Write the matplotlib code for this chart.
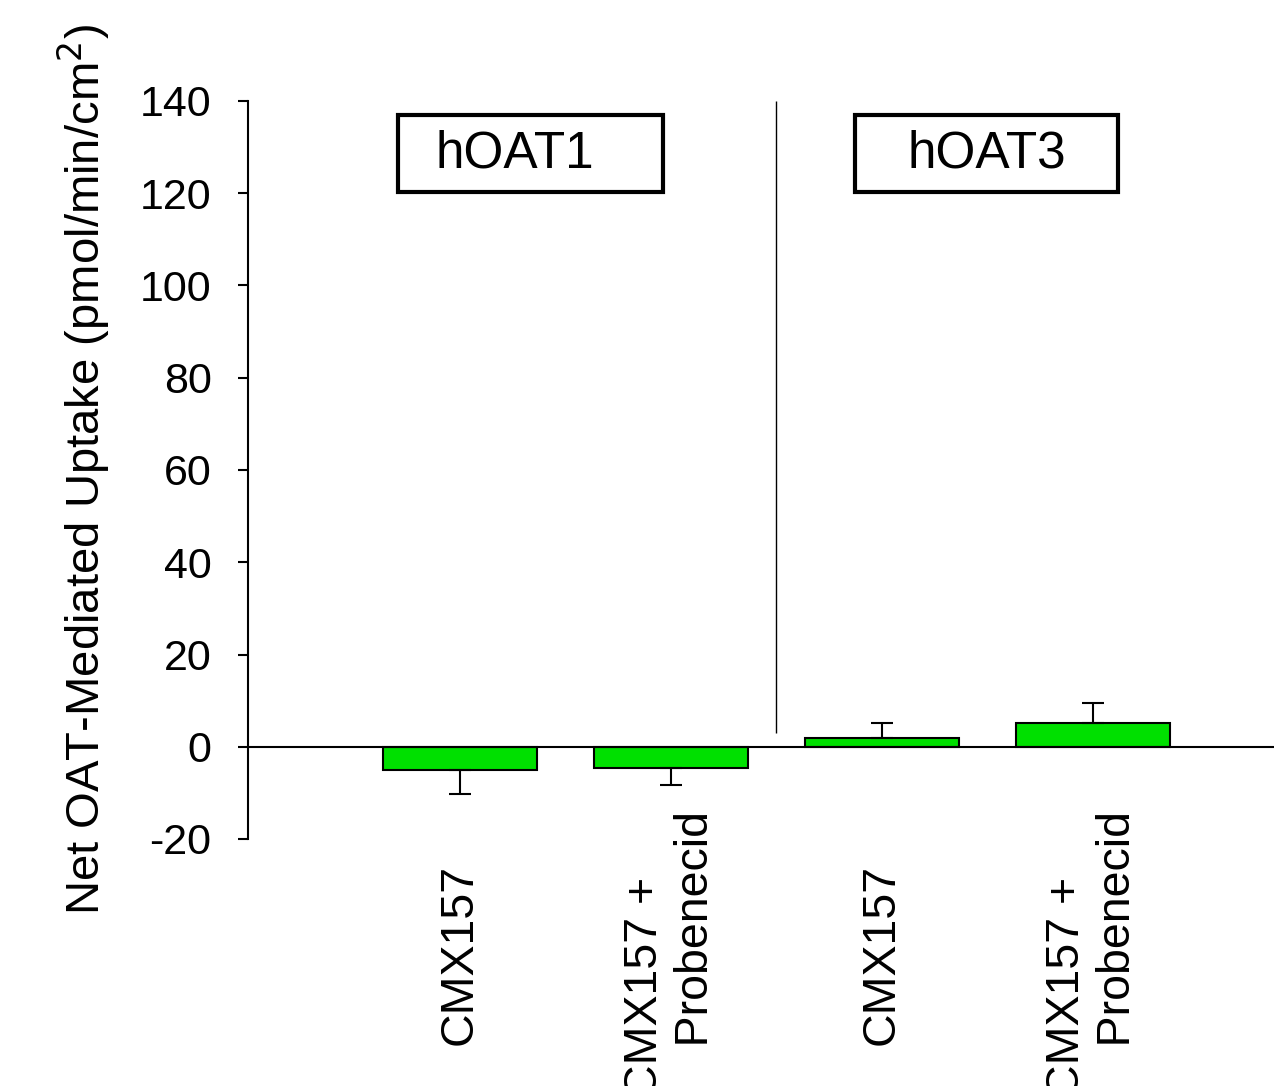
import matplotlib
matplotlib.use("Agg")
import matplotlib.pyplot as plt
from matplotlib.patches import Rectangle
import numpy as np

plt.rcParams['font.family'] = ['Liberation Sans', 'DejaVu Sans']

categories = ["CMX157", "CMX157 +\nProbenecid", "CMX157", "CMX157 +\nProbenecid"]
values = [-5.0, -4.6, 1.9, 5.1]
errors = [5.2, 3.7, 3.2, 4.3]
groups = ["hOAT1", "hOAT3"]
yticks = [-20, 0, 20, 40, 60, 80, 100, 120, 140]
ylabel = "Net OAT-Mediated Uptake (pmol/min/cm$^2$)"

fig = plt.figure(figsize=(12.74, 10.86), dpi=100)
ax = fig.add_axes([248/1274, 1-839/1086, 1-248/1274, (839-101)/1086])

x = np.arange(len(values))
vals = np.array(values)
errs = np.array(errors)
lower = np.where(vals < 0, errs, 0)
upper = np.where(vals >= 0, errs, 0)

ax.bar(x, vals, width=0.73, color='#00e000', edgecolor='black', linewidth=1.5, zorder=2)
ax.errorbar(x, vals, yerr=[lower, upper], fmt='none', ecolor='black',
            elinewidth=1.5, capsize=8, capthick=1.5, zorder=3)

ax.set_xlim(-1.005, 3.86)
ax.set_ylim(-20, 140)
ax.axhline(0, color='black', linewidth=1.5, zorder=4)
ax.vlines(1.5, 3.0, 140, color='black', linewidth=1.0)

for s in ['top', 'right', 'bottom']:
    ax.spines[s].set_visible(False)
ax.spines['left'].set_linewidth(1.5)

ax.set_yticks(yticks)
ax.set_yticklabels([str(t) for t in yticks], fontsize=31)
ax.tick_params(axis='y', direction='out', length=7.2, width=1.5, pad=19)
ax.set_xticks([])

ax.set_ylabel(ylabel, fontsize=34)
ax.yaxis.set_label_coords(-0.1326, 0.5)

# category labels (rotated), centred below the axis
for xi, lab in zip(x, categories):
    lines = lab.split('\n')
    if len(lines) > 1:
        lines[1] = "    " + lines[1]
    ax.text(xi, -0.157, "\n".join(lines), transform=ax.get_xaxis_transform(),
            rotation=90, ha='center', va='center', multialignment='left',
            fontsize=33.5, clip_on=False)

# group boxes
box_x = [(-0.294, 0.962), (1.872, 3.118)]
text_x = [-0.118, 2.123]
for g, (x0, x1), tx in zip(groups, box_x, text_x):
    ax.add_patch(Rectangle((x0, 120.2), x1 - x0, 137.0 - 120.2, fill=False,
                           edgecolor='black', linewidth=3, zorder=5))
    ax.text(tx, 125.5, g, ha='left', va='baseline', fontsize=37, zorder=6)

fig.savefig("out.png", dpi=100)
